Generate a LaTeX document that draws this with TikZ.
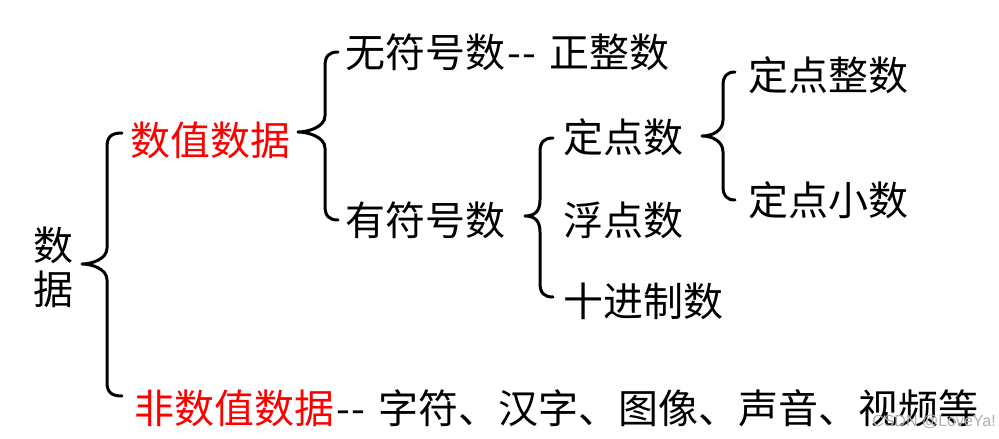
\documentclass[tikz,border=0pt]{standalone}
\usepackage{fontspec}
\setmainfont{Noto Sans CJK SC}
\newfontfamily\wmfont{Liberation Sans}
\definecolor{myred}{RGB}{255,0,0}
\definecolor{wmgray}{RGB}{175,175,175}
\newcommand{\mybrace}[6]{%
  \draw[bracestyle] (#5,#2) .. controls ({#1+4},#2) and (#1,{#2+4}) .. (#1,{#2+14})
    -- (#1,{#3-16}) .. controls (#1,{#3-5}) and ({#6+10},#3) .. (#6,#3)
    .. controls ({#6+10},#3) and (#1,{#3+5}) .. (#1,{#3+16})
    -- (#1,{#4-14}) .. controls (#1,{#4-4}) and ({#1+4},#4) .. (#5,#4);}
\newcommand{\dd}{\hspace{2pt}{-}\hspace{1pt}{-}\hspace{14pt}}
\begin{document}
\begin{tikzpicture}[x=1pt,y=-1pt,
  lbl/.style={anchor=west,inner sep=0pt,font=\fontsize{40}{42}\selectfont},
  redlbl/.style={lbl,text=myred},
  bracestyle/.style={line width=3pt,line cap=round,line join=round}]
\useasboundingbox[fill=white] (0,0) rectangle (999,439);
% texts
\node[lbl,align=center,anchor=center] (root) at (53,267) {数\\[2pt]据};
\node[redlbl] (num) at (130,140) {数值数据};
\node[lbl] (unsigned) at (345,52) {无符号数\dd 正整数};
\node[lbl] (signed) at (345,220) {有符号数};
\node[lbl] (fixed) at (563,137) {定点数};
\node[lbl] (float) at (563,220) {浮点数};
\node[lbl] (dec) at (563,301) {十进制数};
\node[lbl] (fint) at (748,75) {定点整数};
\node[lbl] (ffrac) at (748,200) {定点小数};
\node[lbl] (nonnum) at (134,408) {\textcolor{myred}{非数值数据}\dd 字符、汉字、图像、声音、视频等};
\node[anchor=east,inner sep=0pt,text=wmgray,font=\wmfont\fontsize{16}{17}\selectfont] (wm) at (996,422) {CSDN @LoveYa!};
% braces
\mybrace{107}{133}{264}{396}{122}{82}
\mybrace{325}{52}{132}{220}{338}{298}
\mybrace{540}{138}{216}{297}{553}{525}
\mybrace{723}{72}{136}{200}{735}{702}
\end{tikzpicture}
\end{document}
